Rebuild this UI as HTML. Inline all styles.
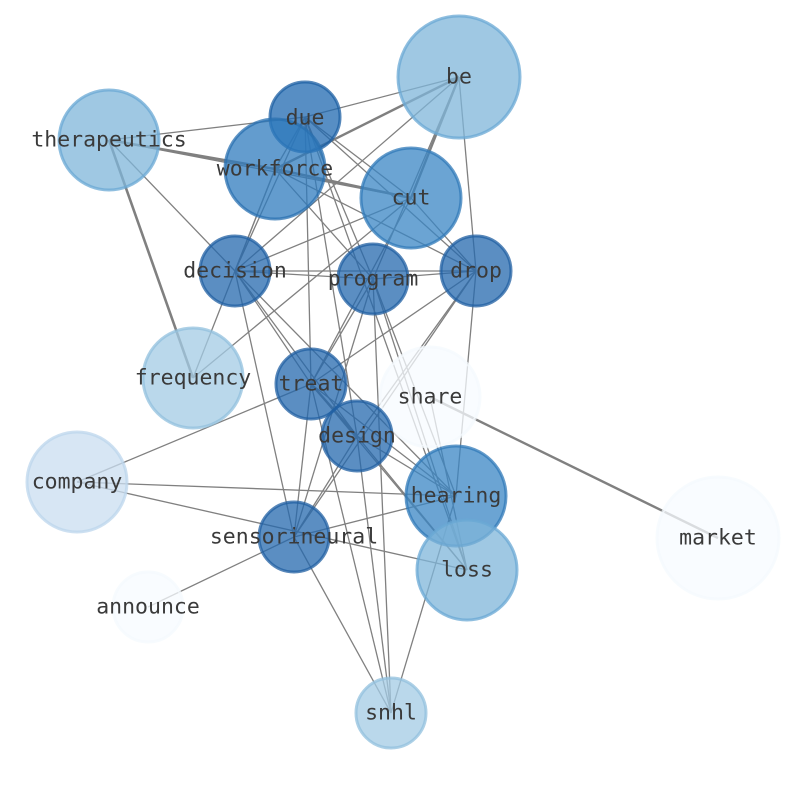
<!DOCTYPE html>
<html><head><meta charset="utf-8"><style>
html,body{margin:0;padding:0;background:#fff;}
svg text{font-family:"DejaVu Sans Mono","Liberation Mono",monospace;font-size:21.5px;fill:#3a3a3a;text-anchor:middle;dominant-baseline:central;}
</style></head><body>
<svg width="794" height="790" viewBox="0 0 794 790" xmlns="http://www.w3.org/2000/svg">
<g stroke="#808080" stroke-width="1.3" fill="none">
<line x1="109" y1="140" x2="305" y2="117"/>
<line x1="109" y1="140" x2="275" y2="169" stroke-width="2.6"/>
<line x1="109" y1="140" x2="411" y2="198"/>
<line x1="109" y1="140" x2="193" y2="378" stroke-width="2.6"/>
<line x1="109" y1="140" x2="235" y2="271"/>
<line x1="459" y1="77" x2="305" y2="117"/>
<line x1="459" y1="77" x2="275" y2="169" stroke-width="2.4"/>
<line x1="459" y1="77" x2="411" y2="198" stroke-width="2.4"/>
<line x1="459" y1="77" x2="235" y2="271"/>
<line x1="459" y1="77" x2="476" y2="271"/>
<line x1="459" y1="77" x2="373" y2="279"/>
<line x1="305" y1="117" x2="275" y2="169"/>
<line x1="305" y1="117" x2="411" y2="198"/>
<line x1="305" y1="117" x2="235" y2="271"/>
<line x1="305" y1="117" x2="476" y2="271"/>
<line x1="305" y1="117" x2="373" y2="279"/>
<line x1="305" y1="117" x2="357" y2="436"/>
<line x1="305" y1="117" x2="311" y2="384"/>
<line x1="305" y1="117" x2="467" y2="570"/>
<line x1="275" y1="169" x2="411" y2="198" stroke-width="2.6"/>
<line x1="275" y1="169" x2="373" y2="279"/>
<line x1="275" y1="169" x2="476" y2="271"/>
<line x1="275" y1="169" x2="235" y2="271"/>
<line x1="275" y1="169" x2="193" y2="378"/>
<line x1="411" y1="198" x2="235" y2="271"/>
<line x1="411" y1="198" x2="193" y2="378"/>
<line x1="411" y1="198" x2="311" y2="384"/>
<line x1="411" y1="198" x2="476" y2="271"/>
<line x1="235" y1="271" x2="373" y2="279"/>
<line x1="235" y1="271" x2="476" y2="271"/>
<line x1="235" y1="271" x2="311" y2="384"/>
<line x1="235" y1="271" x2="357" y2="436"/>
<line x1="235" y1="271" x2="456" y2="496"/>
<line x1="235" y1="271" x2="294" y2="537"/>
<line x1="373" y1="279" x2="476" y2="271"/>
<line x1="373" y1="279" x2="311" y2="384"/>
<line x1="373" y1="279" x2="294" y2="537"/>
<line x1="373" y1="279" x2="456" y2="496"/>
<line x1="373" y1="279" x2="391" y2="713"/>
<line x1="373" y1="279" x2="467" y2="570"/>
<line x1="476" y1="271" x2="311" y2="384"/>
<line x1="476" y1="271" x2="357" y2="436"/>
<line x1="476" y1="271" x2="294" y2="537"/>
<line x1="476" y1="271" x2="456" y2="496"/>
<line x1="311" y1="384" x2="357" y2="436" stroke-width="2.4"/>
<line x1="311" y1="384" x2="77" y2="482"/>
<line x1="311" y1="384" x2="467" y2="570"/>
<line x1="311" y1="384" x2="391" y2="713"/>
<line x1="311" y1="384" x2="294" y2="537"/>
<line x1="311" y1="384" x2="456" y2="496"/>
<line x1="357" y1="436" x2="456" y2="496"/>
<line x1="357" y1="436" x2="294" y2="537"/>
<line x1="357" y1="436" x2="467" y2="570"/>
<line x1="357" y1="436" x2="391" y2="713"/>
<line x1="430" y1="397" x2="718" y2="538" stroke-width="2.4"/>
<line x1="430" y1="397" x2="467" y2="570"/>
<line x1="77" y1="482" x2="456" y2="496"/>
<line x1="77" y1="482" x2="467" y2="570"/>
<line x1="456" y1="496" x2="294" y2="537"/>
<line x1="456" y1="496" x2="391" y2="713"/>
<line x1="294" y1="537" x2="148" y2="607"/>
<line x1="294" y1="537" x2="391" y2="713"/>
</g>
<g stroke-width="3" fill-opacity="0.75" stroke-opacity="0.75">
<circle cx="459" cy="77" r="61" fill="#7fb5da" stroke="#6aa8d4"/>
<circle cx="109" cy="140" r="50" fill="#7fb5da" stroke="#6aa8d4"/>
<circle cx="305" cy="117" r="35" fill="#1f68b0" stroke="#1c5fa3"/>
<circle cx="275" cy="169" r="50" fill="#2f7bbd" stroke="#2a70b0"/>
<circle cx="411" cy="198" r="50" fill="#3a86c4" stroke="#3079b8"/>
<circle cx="235" cy="271" r="35" fill="#2468ad" stroke="#205fa1"/>
<circle cx="373" cy="279" r="35" fill="#2468ad" stroke="#205fa1"/>
<circle cx="476" cy="271" r="35" fill="#2468ad" stroke="#205fa1"/>
<circle cx="193" cy="378" r="50" fill="#a3cbe4" stroke="#92c0de"/>
<circle cx="311" cy="384" r="35" fill="#2468ad" stroke="#205fa1"/>
<circle cx="430" cy="397" r="50" fill="#f7fbff" stroke="#f4f9fe"/>
<circle cx="357" cy="436" r="35" fill="#2468ad" stroke="#205fa1"/>
<circle cx="77" cy="482" r="50" fill="#c9ddf0" stroke="#bcd5ec"/>
<circle cx="456" cy="496" r="50" fill="#3a86c4" stroke="#3079b8"/>
<circle cx="294" cy="537" r="35" fill="#2468ad" stroke="#205fa1"/>
<circle cx="718" cy="538" r="61" fill="#f7fbff" stroke="#f4f9fe"/>
<circle cx="467" cy="570" r="50" fill="#7fb5da" stroke="#6aa8d4"/>
<circle cx="148" cy="607" r="35" fill="#f7fbff" stroke="#f4f9fe"/>
<circle cx="391" cy="713" r="35" fill="#a3cbe4" stroke="#92c0de"/>
</g>
<g>
<text x="459" y="77">be</text>
<text x="109" y="140">therapeutics</text>
<text x="305" y="118">due</text>
<text x="275" y="169">workforce</text>
<text x="411" y="198">cut</text>
<text x="235" y="271">decision</text>
<text x="373" y="279">program</text>
<text x="476" y="271">drop</text>
<text x="193" y="378">frequency</text>
<text x="311" y="384">treat</text>
<text x="430" y="397">share</text>
<text x="357" y="436">design</text>
<text x="77" y="482">company</text>
<text x="456" y="496">hearing</text>
<text x="294" y="537">sensorineural</text>
<text x="718" y="538">market</text>
<text x="467" y="570">loss</text>
<text x="148" y="607">announce</text>
<text x="391" y="713">snhl</text>
</g>
</svg>
</body></html>
